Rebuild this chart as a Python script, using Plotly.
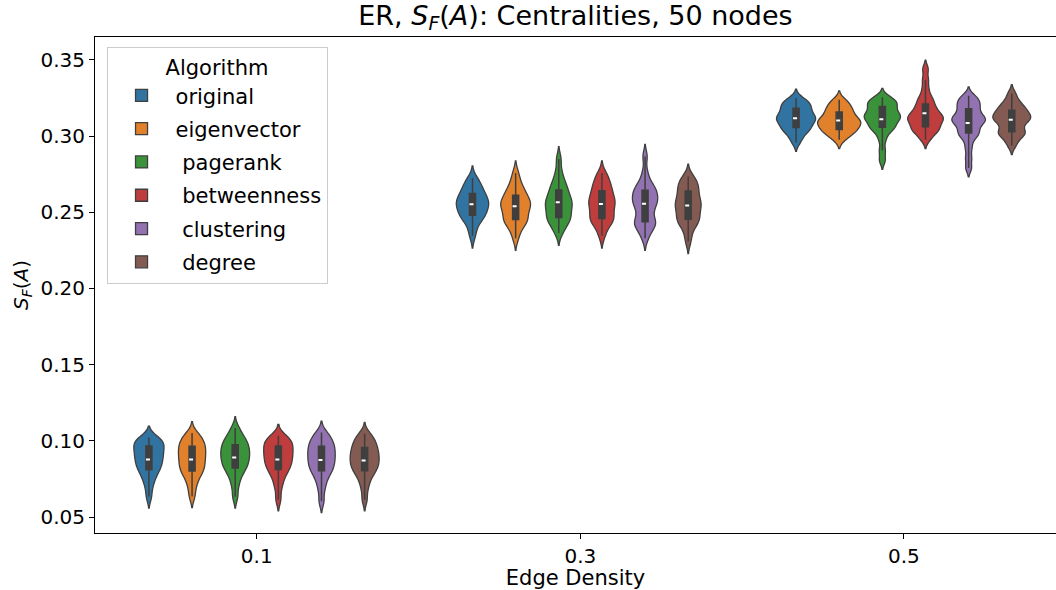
import plotly.graph_objects as go

densities = ["0.1", "0.3", "0.5"]
algorithms = ["original", "eigenvector", " pagerank", " betweenness", " clustering", " degree"]
colors = ["#3274a1", "#e1812c", "#3a923a", "#c03d3e", "#9372b2", "#845b53"]

# Samples for each algorithm at each edge density
original_01 = [0.0633, 0.0700, 0.0742, 0.0773, 0.0797, 0.0815, 0.0831, 0.0847, 0.0862, 0.0877, 0.0892,
               0.0906, 0.0920, 0.0934, 0.0948, 0.0962, 0.0976, 0.0989, 0.1001, 0.1012, 0.1022]
original_03 = [0.2345, 0.2400, 0.2440, 0.2462, 0.2475, 0.2483, 0.2500, 0.2518, 0.2532, 0.2545, 0.2555,
               0.2565, 0.2575, 0.2588, 0.2602, 0.2619, 0.2635, 0.2652, 0.2672, 0.2698, 0.2724]
original_05 = [0.2958, 0.2995, 0.3020, 0.3038, 0.3050, 0.3058, 0.3075, 0.3090, 0.3100, 0.3110, 0.3117,
               0.3125, 0.3135, 0.3148, 0.3162, 0.3179, 0.3190, 0.3202, 0.3215, 0.3230, 0.3249]

eigenvector_01 = [0.0635, 0.0695, 0.0738, 0.0768, 0.0790, 0.0806, 0.0822, 0.0838, 0.0854, 0.0870, 0.0886,
                  0.0901, 0.0916, 0.0931, 0.0946, 0.0961, 0.0976, 0.0991, 0.1008, 0.1028, 0.1051]
eigenvector_03 = [0.2330, 0.2385, 0.2415, 0.2435, 0.2447, 0.2455, 0.2475, 0.2495, 0.2515, 0.2530, 0.2542,
                  0.2552, 0.2562, 0.2575, 0.2590, 0.2608, 0.2625, 0.2645, 0.2668, 0.2705, 0.2757]
eigenvector_05 = [0.2975, 0.3000, 0.3018, 0.3030, 0.3040, 0.3045, 0.3060, 0.3072, 0.3082, 0.3090, 0.3095,
                  0.3103, 0.3112, 0.3125, 0.3140, 0.3154, 0.3168, 0.3182, 0.3198, 0.3218, 0.3238]

pagerank_01 = [0.0633, 0.0705, 0.0752, 0.0785, 0.0808, 0.0825, 0.0841, 0.0856, 0.0871, 0.0886, 0.0900,
               0.0914, 0.0928, 0.0942, 0.0956, 0.0971, 0.0986, 0.1002, 0.1020, 0.1045, 0.1084]
pagerank_03 = [0.2363, 0.2400, 0.2428, 0.2448, 0.2460, 0.2468, 0.2490, 0.2510, 0.2528, 0.2542, 0.2555,
               0.2568, 0.2582, 0.2598, 0.2618, 0.2641, 0.2660, 0.2685, 0.2715, 0.2767, 0.2850]
pagerank_05 = [0.2840, 0.2905, 0.2975, 0.3020, 0.3045, 0.3058, 0.3063, 0.3085, 0.3100, 0.3112, 0.3122, 0.3128,
               0.3136, 0.3146, 0.3160, 0.3176, 0.3194, 0.3205, 0.3215, 0.3228, 0.3240, 0.3255]

betweenness_01 = [0.0614, 0.0690, 0.0738, 0.0772, 0.0798, 0.0816, 0.0832, 0.0847, 0.0862, 0.0877, 0.0892,
                  0.0906, 0.0920, 0.0934, 0.0948, 0.0962, 0.0976, 0.0990, 0.1004, 0.1018, 0.1033]
betweenness_03 = [0.2345, 0.2395, 0.2425, 0.2445, 0.2455, 0.2461, 0.2485, 0.2505, 0.2525, 0.2542, 0.2555,
                  0.2568, 0.2582, 0.2598, 0.2615, 0.2636, 0.2655, 0.2675, 0.2698, 0.2725, 0.2757]
betweenness_05 = [0.2975, 0.3005, 0.3025, 0.3040, 0.3050, 0.3056, 0.3075, 0.3090, 0.3102, 0.3110, 0.3117,
                  0.3125, 0.3135, 0.3148, 0.3162, 0.3179, 0.3195, 0.3215, 0.3240, 0.3260, 0.3310,
                  0.3370, 0.3440]

clustering_01 = [0.0603, 0.0680, 0.0730, 0.0765, 0.0790, 0.0808, 0.0824, 0.0840, 0.0856, 0.0871, 0.0886,
                 0.0901, 0.0916, 0.0931, 0.0946, 0.0961, 0.0976, 0.0992, 0.1010, 0.1031, 0.1055]
clustering_03 = [0.2330, 0.2375, 0.2405, 0.2420, 0.2432, 0.2439, 0.2470, 0.2500, 0.2525, 0.2545, 0.2560,
                 0.2575, 0.2590, 0.2605, 0.2622, 0.2640, 0.2655, 0.2672, 0.2700, 0.2760, 0.2866]
clustering_05 = [0.2790, 0.2855, 0.2921, 0.2975, 0.3005, 0.3020, 0.3030, 0.3055, 0.3075, 0.3090, 0.3100, 0.3106,
                 0.3115, 0.3126, 0.3140, 0.3158, 0.3179, 0.3195, 0.3210, 0.3228, 0.3245, 0.3264]

degree_01 = [0.0614, 0.0688, 0.0735, 0.0768, 0.0792, 0.0808, 0.0823, 0.0838, 0.0852, 0.0866, 0.0880,
             0.0894, 0.0908, 0.0922, 0.0937, 0.0952, 0.0968, 0.0985, 0.1003, 0.1023, 0.1046]
degree_03 = [0.2308, 0.2370, 0.2410, 0.2435, 0.2448, 0.2455, 0.2478, 0.2500, 0.2518, 0.2535, 0.2547,
             0.2560, 0.2575, 0.2592, 0.2612, 0.2636, 0.2652, 0.2670, 0.2690, 0.2712, 0.2735]
degree_05 = [0.2936, 0.2975, 0.3000, 0.3015, 0.3025, 0.3030, 0.3055, 0.3078, 0.3095, 0.3106, 0.3113,
             0.3120, 0.3130, 0.3142, 0.3155, 0.3166, 0.3180, 0.3195, 0.3212, 0.3238, 0.3280]

series = [
    [original_01, original_03, original_05],
    [eigenvector_01, eigenvector_03, eigenvector_05],
    [pagerank_01, pagerank_03, pagerank_05],
    [betweenness_01, betweenness_03, betweenness_05],
    [clustering_01, clustering_03, clustering_05],
    [degree_01, degree_03, degree_05],
]

y_ticks = [0.05, 0.10, 0.15, 0.20, 0.25, 0.30, 0.35]

# KDE bandwidth used for each edge density
bandwidths = [0.0037, 0.0040, 0.0029]

FONT = "DejaVu Sans"
EDGE = "#3f3f3f"

fig = go.Figure()
for name, color, groups in zip(algorithms, colors, series):
    for j, (d, vals, bw) in enumerate(zip(densities, groups, bandwidths)):
        fig.add_trace(go.Violin(
            x=[d] * len(vals), y=vals, name=name, legendgroup=name,
            offsetgroup=name, showlegend=(j == 0),
            scalegroup="all", scalemode="width",
            fillcolor=color, opacity=1,
            line=dict(color=EDGE, width=1.3),
            points=False, spanmode="soft", bandwidth=bw,
            box=dict(visible=True, width=0.14, fillcolor=EDGE, line=dict(color=EDGE, width=1.5)),
            meanline=dict(visible=True, color="white", width=2),
            hoveron="violins",
        ))

fig.update_layout(
    width=1056, height=590,
    margin=dict(l=95, r=0, t=37, b=57),
    paper_bgcolor="white", plot_bgcolor="white",
    violinmode="group", violingap=0.2, violingroupgap=0,
    font=dict(family=FONT, size=20, color="black"),
    title=dict(text="ER, <i>S</i><sub><i>F</i></sub>(<i>A</i>): Centralities, 50 nodes",
               x=0.5, xref="paper", xanchor="center", y=0.99, yanchor="top",
               font=dict(size=27, family=FONT)),
    legend=dict(
        x=0.012, y=0.98, xanchor="left", yanchor="top",
        bgcolor="white", bordercolor="#cccccc", borderwidth=1,
        title=dict(text="Algorithm", side="top center", font=dict(size=21)),
        font=dict(size=21), itemwidth=58, tracegroupgap=3,
    ),
    showlegend=True,
)
fig.update_xaxes(
    type="category", categoryorder="array", categoryarray=densities,
    range=[-0.5, 2.47],
    showline=True, linecolor="black", linewidth=1, mirror=True,
    ticks="outside", ticklen=5, tickcolor="black",
    showgrid=False, zeroline=False,
    title=dict(text="Edge Density", standoff=8, font=dict(size=21)),
    tickfont=dict(size=20),
)
fig.update_yaxes(
    range=[0.0395, 0.365],
    tickvals=y_ticks, ticktext=[f"{v:.2f}" for v in y_ticks],
    showline=True, linecolor="black", linewidth=1, mirror=False,
    ticks="outside", ticklen=5, tickcolor="black",
    showgrid=False, zeroline=False,
    title=dict(text="<i>S</i><sub><i>F</i></sub>(<i>A</i>)", standoff=6, font=dict(size=20)),
    tickfont=dict(size=20),
)

fig.write_html("out.html")
